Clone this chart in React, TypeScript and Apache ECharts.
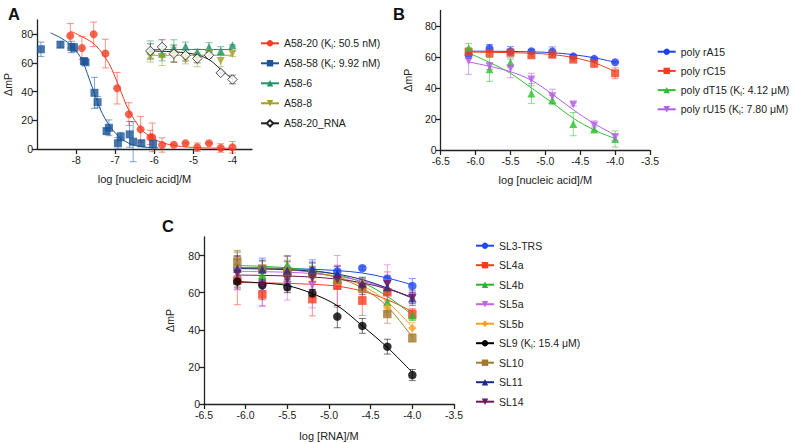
import React, { useEffect, useRef } from "react";
import * as echarts from "echarts";

// ---------- Panel A ----------
const xA20 = [-8.15, -7.85, -7.55, -7.25, -6.95, -6.65, -6.35, -6.1, -6.05, -5.8, -5.5, -5.2, -4.9, -4.6, -4.3, -4.0];
const yA20 = [79, 70.5, 80, 66.6, 42.4, 24.3, 13.7, 8.1, 8.1, 2.8, 3, 4, 1.2, 4, 0.7, 1.2];
const eA20 = [8.5, 8, 8.5, 10, 11, 8, 9, 5, 10, 5, 0.5, 0.5, 3, 0.5, 3, 4];
const cxA20 = [-8.15, -7.8, -7.5, -7.16, -6.9, -6.65, -6.31, -5.96, -5.6, -5.2, -4.8, -4.4, -4.0];
const cyA20 = [82.3, 77.7, 72.3, 59.6, 43.3, 27, 13.2, 6.3, 3, 1.5, 0.8, 0.6, 0.5];

const xA58 = [-8.9, -8.4, -8.12, -8.05, -7.8, -7.76, -7.53, -7.45, -7.22, -7.16, -6.93, -6.86, -6.63, -6.54, -6.33, -6.03];
const yA58 = [69.6, 72.8, 71.2, 70.7, 61.4, 60.5, 39.2, 32.7, 12.5, 14.8, 4, 8.6, 10.2, 5.1, 4, 3.5];
const eA58 = [5, 2, 4, 3, 2, 1, 10.8, 4, 2, 5.5, 4, 3, 9, 14, 2, 3];
const cxA58 = [-8.65, -8.36, -8.1, -7.85, -7.59, -7.33, -6.99, -6.65, -6.3, -5.9];
const cyA58 = [81, 77, 71.6, 62, 43.3, 24.8, 10.9, 4, 1.5, 0.8];

const xA6 = [-6.1, -5.8, -5.5, -5.2, -4.9, -4.6, -4.3, -4.0];
const yA6 = [68.9, 66.5, 70.7, 71.6, 67.7, 71.2, 68.4, 72.3];
const eA6 = [6.5, 5, 5.5, 3, 2, 3, 3, 0.5];
const cxA6 = [-6.1, -4.0];
const cyA6 = [69.4, 69.4];

const yA8 = [64.7, 64.2, 66, 62.4, 62.4, 67, 61.4, 66.5];
const eA8 = [4, 6, 5, 3, 5, 2, 4, 2];
const cyA8 = [65.4, 65.4];

const yARNA = [68.4, 71.2, 66.5, 65.4, 63.1, 65.4, 53.1, 48.5];
const eARNA = [5, 5, 6, 4, 3, 2, 0.5, 3];
const cxARNA = [-6.1, -5.5, -5.0, -4.6, -4.3, -4.0];
const cyARNA = [68.4, 67.8, 66.3, 62.4, 55.5, 48.8];

// ---------- Panel B ----------
const xB = [-6.1, -5.8, -5.5, -5.2, -4.9, -4.6, -4.3, -4.0];
const yBrA = [61.1, 65.6, 63.7, 63.7, 63.5, 60.4, 58.8, 56.6];
const eBrA = [2, 2.5, 3, 1, 3, 1, 1, 0.5];
const cyBrA = [63.8, 63.7, 63.6, 63.3, 62.8, 61.5, 59.5, 56.6];
const yBrC = [63.3, 62.6, 62.8, 61.1, 61.5, 58.3, 55.8, 49.5];
const eBrC = [1, 3, 1, 1, 2, 1, 2.5, 3.5];
const cyBrC = [63.2, 63, 62.8, 62.4, 61.6, 59.6, 56.3, 50.5];
const yBdT = [65.8, 52.1, 56.6, 36.5, 32.2, 16.7, 13.3, 7.1];
const eBdT = [3, 7.8, 3, 6.4, 3, 7.5, 1.5, 5.2];
const cyBdT = [62.6, 56.5, 49.5, 40, 30.5, 20.5, 12.9, 7.4];
const yBrU = [57.5, 54, 52.6, 45.5, 34.7, 29.4, 15.8, 8.2];
const eBrU = [8.7, 2, 6, 4, 4.5, 1, 3, 2];
const cyBrU = [56.8, 54, 50.5, 45, 36, 26, 17, 9.7];

// ---------- Panel C ----------
const xC = [-6.1, -5.8, -5.5, -5.2, -4.9, -4.6, -4.3, -4.0];
const ySL3 = [73.5, 72.6, 72.6, 71.7, 71.4, 73.2, 67.4, 63.6];
const eSL3 = [6, 6, 7, 6, 3, 1, 2, 4];
const cSL3 = [73.5, 73.3, 73, 72.6, 71.9, 70.6, 67.9, 64.2];
const ySL4a = [66.5, 59, 70.8, 56.5, 63.8, 55.7, 60.2, 48.4];
const eSL4a = [13, 6, 9, 9, 11, 8, 11, 3];
const cSL4a = [65.5, 65.3, 65, 64.5, 63.5, 60.8, 56.2, 49.8];
const ySL4b = [74, 69.6, 75, 71, 67.5, 65.5, 55, 48];
const eSL4b = [8, 5, 5, 5, 5, 3, 5, 3];
const cSL4b = [74.6, 74.2, 73.4, 72, 69.6, 65.5, 58, 48];
const ySL5a = [71.5, 62.5, 64, 63.8, 66, 62.7, 65, 57.3];
const eSL5a = [10, 10, 8, 12, 14, 5, 10, 3];
const cSL5a = [71.5, 71.3, 71, 70.3, 68.8, 66.2, 62.3, 57.3];
const ySL5b = [74.5, 72, 72.5, 70.5, 66, 65, 52, 41];
const eSL5b = [8, 5, 5, 4, 4, 3, 4, 3];
const cSL5b = [73, 72.8, 72.2, 71, 68.5, 63.8, 55, 41.5];
const ySL9 = [66, 64, 63, 59.7, 47.1, 42.1, 30.9, 15.6];
const eSL9 = [3, 3, 3, 2, 6, 4, 4, 3];
const cSL9 = [66, 65.2, 63.8, 59.5, 53, 42.1, 30.5, 17];
const ySL10 = [76.8, 73, 71.5, 70, 67, 62, 48.5, 35.5];
const eSL10 = [6, 4, 5, 4, 4, 4, 5, 2];
const cSL10 = [73.5, 73.2, 72.5, 71, 68, 62.5, 52.5, 36];
const ySL11 = [73, 72.5, 72, 72.5, 70, 65, 63, 57];
const eSL11 = [7, 5, 5, 4, 4, 3, 4, 3];
const cSL11 = [73, 72.8, 72.4, 71.6, 70, 67, 62.5, 57];
const ySL14 = [70, 64.2, 67, 67.8, 67, 63, 64.6, 57];
const eSL14 = [8, 8, 6, 6, 5, 4, 4, 4];
const cSL14 = [69.5, 69.3, 69, 68.4, 67.3, 65.3, 62, 57.5];

const ticksAx = [-8, -7, -6, -5, -4];
const ticksBCx = [-6.5, -6.0, -5.5, -5.0, -4.5, -4.0, -3.5];
const ticksY = [0, 20, 40, 60, 80];

const namesA = ["A58-20 (Ki: 50.5 nM)", "A58-58 (Ki: 9.92 nM)", "A58-6", "A58-8", "A58-20_RNA"];
const namesB = ["poly rA15", "poly rC15", "poly dT15 (Ki: 4.12 μM)", "poly rU15 (Ki: 7.80 μM)"];
const namesC = ["SL3-TRS", "SL4a", "SL4b", "SL5a", "SL5b", "SL9 (Ki: 15.4 μM)", "SL10", "SL11", "SL14"];

const FONT = "'Liberation Sans', Arial, Helvetica, sans-serif";
const DOWN = "path://M0,0L10,0L5,9Z";

type Spec = {
  name: string; g: number; color: string; symbol: string; size: number;
  xs: number[]; ys: number[]; es: number[]; cx: number[]; cy: number[];
  open?: boolean;
};

function buildSeries(s: Spec): any[] {
  const pointStyle = s.open
    ? { color: "#ffffff", borderColor: s.color, borderWidth: 1 }
    : { color: s.color };
  return [
    {
      type: "line", name: s.name, xAxisIndex: s.g, yAxisIndex: s.g,
      data: s.cx.map((x, i) => [x, s.cy[i]]),
      smooth: 0.35, showSymbol: false, symbol: s.symbol, symbolSize: s.size,
      color: s.color,
      itemStyle: pointStyle,
      lineStyle: { color: s.color, width: 1 },
      z: 3, silent: true,
    },
    {
      type: "custom", name: s.name + " err", xAxisIndex: s.g, yAxisIndex: s.g,
      data: s.xs.map((x, i) => [x, s.ys[i] - s.es[i], s.ys[i] + s.es[i]]),
      encode: { x: 0, y: [1, 2] },
      renderItem: (_p: any, api: any) => {
        const x = api.value(0);
        const lo = api.coord([x, api.value(1)]);
        const hi = api.coord([x, api.value(2)]);
        const w = 3.5;
        const style = { stroke: s.color, lineWidth: 1, opacity: 0.55 };
        return {
          type: "group",
          children: [
            { type: "line", shape: { x1: lo[0], y1: lo[1], x2: hi[0], y2: hi[1] }, style },
            { type: "line", shape: { x1: lo[0] - w, y1: lo[1], x2: lo[0] + w, y2: lo[1] }, style },
            { type: "line", shape: { x1: hi[0] - w, y1: hi[1], x2: hi[0] + w, y2: hi[1] }, style },
          ],
        };
      },
      z: 2, silent: true,
    },
    {
      type: "scatter", name: s.name + " pts", xAxisIndex: s.g, yAxisIndex: s.g,
      data: s.xs.map((x, i) => [x, s.ys[i]]),
      symbol: s.symbol, symbolSize: s.size,
      itemStyle: pointStyle, z: 4, silent: true,
    },
  ];
}

function xAxisOf(g: number, min: number, max: number, ticks: number[], name: string, gap: number, fmt: (v: number) => string) {
  return {
    gridIndex: g, type: "value", min, max,
    axisLine: { show: true, onZero: false, lineStyle: { color: "#222", width: 1.3 } },
    axisTick: { show: true, length: 5, customValues: ticks, lineStyle: { color: "#222", width: 1.3 } },
    axisLabel: { customValues: ticks, formatter: fmt, fontSize: 10.5, color: "#222", margin: 5, fontFamily: FONT },
    splitLine: { show: false },
    name, nameLocation: "middle", nameGap: gap,
    nameTextStyle: { fontSize: 11, color: "#222", fontFamily: FONT },
  };
}

function yAxisOf(g: number, gap: number) {
  return {
    gridIndex: g, type: "value", min: 0, max: 90,
    axisLine: { show: true, onZero: false, lineStyle: { color: "#222", width: 1.3 } },
    axisTick: { show: true, length: 5, customValues: ticksY, lineStyle: { color: "#222", width: 1.3 } },
    axisLabel: { customValues: ticksY, fontSize: 10.5, color: "#222", margin: 4, fontFamily: FONT },
    splitLine: { show: false },
    name: "ΔmP", nameLocation: "middle", nameGap: gap, nameRotate: 90,
    nameTextStyle: { fontSize: 10.5, color: "#222", fontFamily: FONT },
  };
}

function legendOf(left: number, top: number, gap: number, names: string[]) {
  return {
    orient: "vertical", left, top, itemWidth: 18, itemHeight: 8, itemGap: gap,
    padding: 0, data: names, selectedMode: false,
    formatter: (n: string) => n.replace("(Ki:", "(K{s|i}:"),
    textStyle: {
      fontSize: 10.5, lineHeight: 14, color: "#222", fontFamily: FONT,
      rich: { s: { fontSize: 7.5, lineHeight: 9, verticalAlign: "bottom", color: "#222", fontFamily: FONT } },
    },
  };
}

export default function App() {
  const ref = useRef<HTMLDivElement>(null);
  useEffect(() => {
    if (!ref.current) return;
    const chart = echarts.init(ref.current, undefined, { renderer: "svg" });
    const specs: Spec[] = [
      { name: namesA[0], g: 0, color: "#f23d23", symbol: "circle", size: 8, xs: xA20, ys: yA20, es: eA20, cx: cxA20, cy: cyA20 },
      { name: namesA[1], g: 0, color: "#1b5597", symbol: "rect", size: 8, xs: xA58, ys: yA58, es: eA58, cx: cxA58, cy: cyA58 },
      { name: namesA[2], g: 0, color: "#1e9465", symbol: "triangle", size: 8, xs: xA6, ys: yA6, es: eA6, cx: cxA6, cy: cyA6 },
      { name: namesA[3], g: 0, color: "#a3a12a", symbol: DOWN, size: 8, xs: xA6, ys: yA8, es: eA8, cx: cxA6, cy: cyA8 },
      { name: namesA[4], g: 0, color: "#222222", symbol: "diamond", size: 9.5, xs: xA6, ys: yARNA, es: eARNA, cx: cxARNA, cy: cyARNA, open: true },

      { name: namesB[0], g: 1, color: "#1d3ff0", symbol: "circle", size: 8, xs: xB, ys: yBrA, es: eBrA, cx: xB, cy: cyBrA },
      { name: namesB[1], g: 1, color: "#f0401e", symbol: "rect", size: 8, xs: xB, ys: yBrC, es: eBrC, cx: xB, cy: cyBrC },
      { name: namesB[2], g: 1, color: "#2fbf2f", symbol: "triangle", size: 8, xs: xB, ys: yBdT, es: eBdT, cx: xB, cy: cyBdT },
      { name: namesB[3], g: 1, color: "#b35de8", symbol: DOWN, size: 8, xs: xB, ys: yBrU, es: eBrU, cx: xB, cy: cyBrU },

      { name: namesC[0], g: 2, color: "#1f48f0", symbol: "circle", size: 8.5, xs: xC, ys: ySL3, es: eSL3, cx: xC, cy: cSL3 },
      { name: namesC[1], g: 2, color: "#f83c1c", symbol: "rect", size: 8.5, xs: xC, ys: ySL4a, es: eSL4a, cx: xC, cy: cSL4a },
      { name: namesC[2], g: 2, color: "#2ab52a", symbol: "triangle", size: 8.5, xs: xC, ys: ySL4b, es: eSL4b, cx: xC, cy: cSL4b },
      { name: namesC[3], g: 2, color: "#c463ea", symbol: DOWN, size: 8.5, xs: xC, ys: ySL5a, es: eSL5a, cx: xC, cy: cSL5a },
      { name: namesC[4], g: 2, color: "#f5a020", symbol: "diamond", size: 8.5, xs: xC, ys: ySL5b, es: eSL5b, cx: xC, cy: cSL5b },
      { name: namesC[5], g: 2, color: "#000000", symbol: "circle", size: 8.5, xs: xC, ys: ySL9, es: eSL9, cx: xC, cy: cSL9 },
      { name: namesC[6], g: 2, color: "#a07a30", symbol: "rect", size: 8.5, xs: xC, ys: ySL10, es: eSL10, cx: xC, cy: cSL10 },
      { name: namesC[7], g: 2, color: "#1a2a8a", symbol: "triangle", size: 8.5, xs: xC, ys: ySL11, es: eSL11, cx: xC, cy: cSL11 },
      { name: namesC[8], g: 2, color: "#6a1a5a", symbol: DOWN, size: 8.5, xs: xC, ys: ySL14, es: eSL14, cx: xC, cy: cSL14 },
    ];
    const series: any[] = [];
    specs.forEach((s) => series.push(...buildSeries(s)));

    chart.setOption({
      animation: false,
      backgroundColor: "#ffffff",
      textStyle: { fontFamily: FONT },
      grid: [
        { left: 37, top: 20, width: 215, height: 129, containLabel: false, outerBoundsMode: "none" },
        { left: 440.7, top: 10.5, width: 209.3, height: 139.5, containLabel: false, outerBoundsMode: "none" },
        { left: 204, top: 237, width: 250, height: 167, containLabel: false, outerBoundsMode: "none" },
      ],
      xAxis: [
        xAxisOf(0, -9, -3.5, ticksAx, "log [nucleic acid]/M", 24, (v: number) => String(v)),
        xAxisOf(1, -6.5, -3.5, ticksBCx, "log [nucleic acid]/M", 24, (v: number) => v.toFixed(1)),
        xAxisOf(2, -6.5, -3.5, ticksBCx, "log [RNA]/M", 26, (v: number) => v.toFixed(1)),
      ],
      yAxis: [yAxisOf(0, 23.5), yAxisOf(1, 27), yAxisOf(2, 29)],
      legend: [
        legendOf(260, 36.3, 6, namesA),
        legendOf(656.7, 44.7, 5.2, namesB),
        legendOf(475, 238.7, 5.5, namesC),
      ],
      graphic: [
        { type: "text", left: 8, top: 5, style: { text: "A", fontSize: 16.5, fontWeight: "bold", fill: "#111", fontFamily: FONT } },
        { type: "text", left: 393, top: 5, style: { text: "B", fontSize: 16.5, fontWeight: "bold", fill: "#111", fontFamily: FONT } },
        { type: "text", left: 162, top: 217, style: { text: "C", fontSize: 16.5, fontWeight: "bold", fill: "#111", fontFamily: FONT } },
      ],
      series,
    });
    return () => chart.dispose();
  }, []);
  return <div ref={ref} style={{ position: "fixed", left: 0, top: 0, width: 796, height: 443 }} />;
}
